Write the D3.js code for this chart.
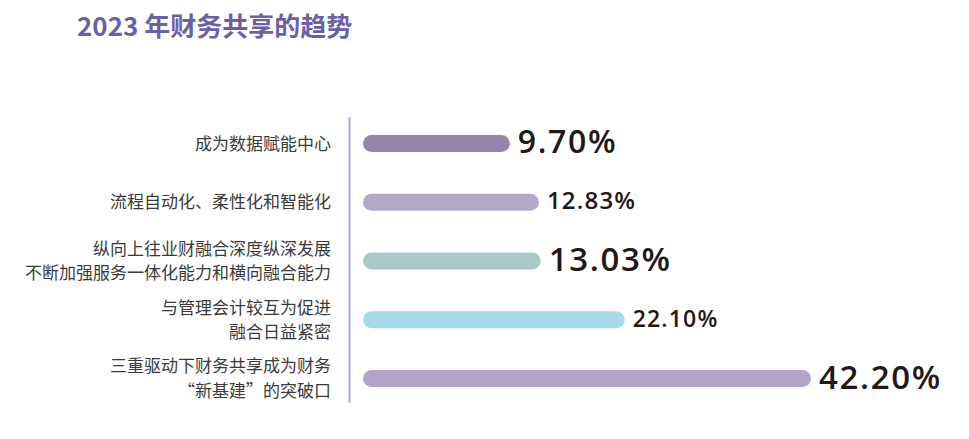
<!DOCTYPE html>
<html><head><meta charset="utf-8">
<script src="https://cdn.jsdelivr.net/npm/d3@7"></script>
<style>html,body{margin:0;padding:0;background:#fff;}svg{display:block;}</style>
</head><body>
<svg id="chart" width="969" height="439"></svg>
<script>
const title = "2023 年财务共享的趋势";
const categories = [
  ["成为数据赋能中心"],
  ["流程自动化、柔性化和智能化"],
  ["纵向上往业财融合深度纵深发展", "不断加强服务一体化能力和横向融合能力"],
  ["与管理会计较互为促进", "融合日益紧密"],
  ["三重驱动下财务共享成为财务", "“新基建”的突破口"]
];
const values = [9.70, 12.83, 13.03, 22.10, 42.20];
const valueLabels = ["9.70%", "12.83%", "13.03%", "22.10%", "42.20%"];

// styles
const barColors = ["#9585ac", "#b4a8c8", "#abc9ca", "#a8d8ea", "#b3a5c8"];
const valueFontSizes = [32, 24, 33, 23, 33];

const svg = d3.select("#chart");
const cjk = "'Noto Sans CJK SC', 'Noto Sans', sans-serif";

svg.append("text").attr("x", 77).attr("y", 36)
  .attr("font-family", cjk).attr("font-weight", 700).attr("font-size", 26)
  .attr("fill", "#6a5fa8").text(title);

const idx = categories.map((d, i) => i);
const y = d3.scaleBand().domain(idx).range([114, 408]);
const x = d3.scaleLinear().domain([0, 42.2]).range([420, 811]);
const x0 = 363;
const barH = 17;

svg.append("line").attr("x1", 349.5).attr("x2", 349.5).attr("y1", 117).attr("y2", 403)
  .attr("stroke", "#b3a6c9").attr("stroke-width", 2);

const g = svg.append("g");
g.selectAll("rect.bar").data(values).join("rect")
  .attr("class", "bar")
  .attr("x", x0)
  .attr("y", (d, i) => y(i) + y.bandwidth() / 2 - barH / 2)
  .attr("width", d => x(d) - x0)
  .attr("height", barH)
  .attr("rx", barH / 2).attr("ry", barH / 2)
  .attr("fill", (d, i) => barColors[i]);

g.selectAll("text.val").data(values).join("text")
  .attr("class", "val")
  .attr("x", d => x(d) + 8)
  .attr("y", (d, i) => y(i) + y.bandwidth() / 2)
  .attr("dy", "0.3em")
  .attr("font-family", "'Open Sans', 'Noto Sans', sans-serif")
  .attr("font-weight", 600)
  .attr("letter-spacing", "0.05em")
  .attr("font-size", (d, i) => valueFontSizes[i])
  .attr("fill", "#231815")
  .text((d, i) => valueLabels[i]);

const lab = g.selectAll("text.lab").data(categories).join("text")
  .attr("class", "lab")
  .attr("text-anchor", "end")
  .attr("font-family", cjk)
  .attr("font-size", 17)
  .attr("fill", "#3a3a3a")
  .attr("x", 331)
  .attr("y", (d, i) => y(i) + y.bandwidth() / 2);
lab.selectAll("tspan").data(d => d.map((s, j) => ({s, j, n: d.length}))).join("tspan")
  .attr("x", 331)
  .attr("dy", d => d.j === 0 ? ((0.36 - (d.n - 1) * 0.72) + "em") : "1.44em")
  .text(d => d.s);
</script>
</body></html>
